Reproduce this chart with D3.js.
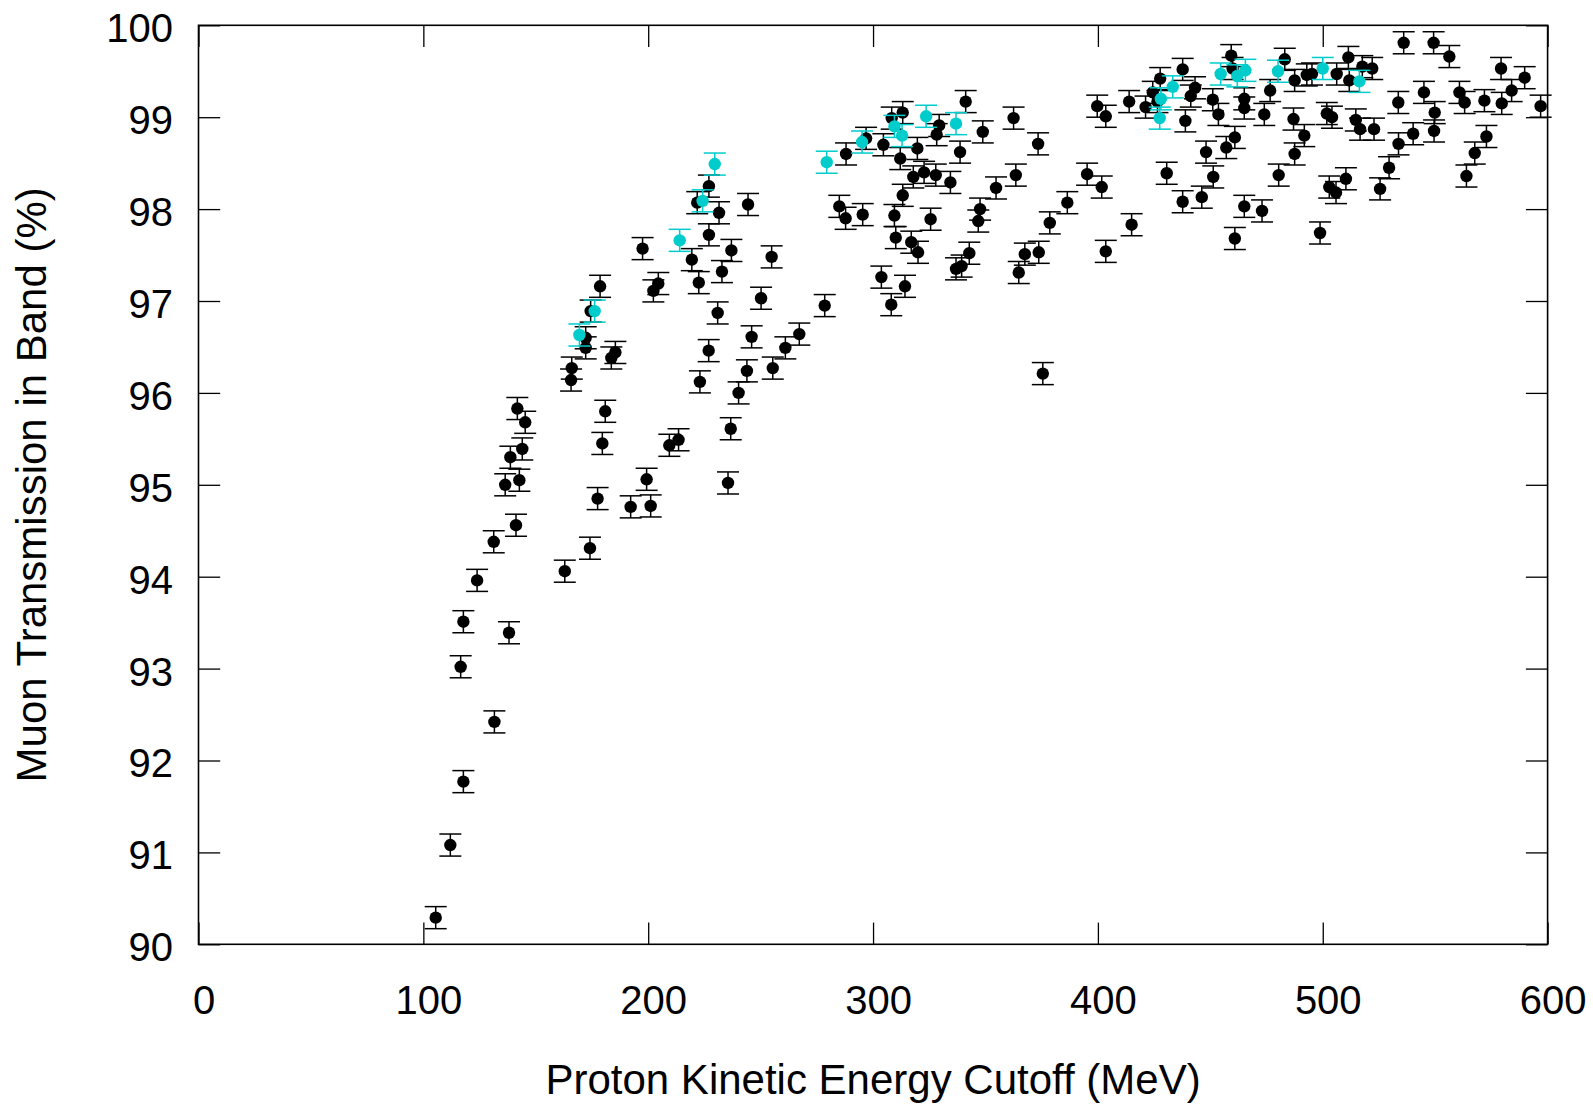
<!DOCTYPE html>
<html>
<head>
<meta charset="utf-8">
<script src="https://cdn.jsdelivr.net/npm/d3@7"></script>
<style>
  html, body { margin: 0; padding: 0; background: #ffffff; }
  svg { display: block; }
  text { font-family: "Liberation Sans", Arial, Helvetica, sans-serif; fill: #000; }
</style>
</head>
<body>
<svg id="chart" width="1593" height="1104"></svg>
<script>
// ---------- data ----------
const xTicks = [0, 100, 200, 300, 400, 500, 600];
const yTicks = [90, 91, 92, 93, 94, 95, 96, 97, 98, 99, 100];
const xTitle = "Proton Kinetic Energy Cutoff (MeV)";
const yTitle = "Muon Transmission in Band (%)";
const errorHalf = 0.12;

const blackX = [105.5,112.0,117.8,116.6,117.8,123.9,131.3,131.6,138.1,136.4,
  138.7,141.2,142.7,141.8,144.0,145.3,162.9,166.0,165.7,172.2,
  172.2,174.4,178.6,183.6,185.4,180.9,179.6,177.5,174.1,192.2,
  201.1,199.3,197.5,202.3,204.5,209.4,213.5,219.4,222.5,223.0,
  221.8,227.0,227.0,231.5,232.8,230.9,226.9,237.0,244.4,236.7,
  235.5,240.2,243.9,246.0,250.2,254.9,255.4,261.0,267.2,278.5,
  285.0,287.8,288.0,295.4,296.9,304.6,303.7,308.1,308.3,313.2,
  312.1,309.5,310.1,313.2,314.2,317.9,317.0,319.7,320.0,322.7,
  325.6,327.9,328.3,329.4,334.4,336.9,339.4,338.7,341.2,342.8,
  346.8,347.6,348.8,354.7,362.5,363.5,364.8,367.5,373.4,373.7,
  375.5,378.6,386.4,395.2,399.7,401.7,403.5,403.5,413.9,415.0,
  421.2,424.4,427.7,426.5,430.6,437.7,437.7,438.9,441.3,443.2,
  446.2,448.1,451.1,451.3,453.6,457.1,459.3,459.9,460.9,460.9,
  465.1,465.1,465.1,473.0,474.0,476.6,480.4,483.1,487.5,487.0,
  487.5,491.8,492.9,495.2,498.8,501.8,504.1,502.9,505.9,506.2,
  510.3,511.4,511.8,514.7,516.6,517.6,522.0,522.8,525.5,529.5,
  533.6,533.7,536.0,540.2,545.0,549.3,549.8,549.5,556.3,560.8,
  563.1,563.9,567.6,571.9,572.8,579.3,579.6,584.0,589.8,596.9];
const blackY = [90.29,91.08,91.77,93.02,93.51,93.96,94.38,92.42,93.39,95.00,
  95.30,94.56,95.05,95.83,95.39,95.68,94.06,96.27,96.14,96.60,
  96.49,96.89,97.16,96.38,96.44,95.80,95.45,94.85,94.31,94.76,
  94.77,95.06,97.57,97.11,97.19,95.43,95.49,97.45,97.20,96.12,
  98.07,98.25,97.72,97.96,97.32,96.87,96.46,97.55,98.05,95.61,
  95.02,96.00,96.24,96.61,97.03,97.48,96.27,96.49,96.64,96.95,
  98.03,97.90,98.60,97.94,98.77,98.70,97.26,96.96,98.99,99.05,
  98.55,97.93,97.69,98.15,97.16,98.35,97.64,98.66,97.53,98.40,
  97.89,98.37,98.81,98.91,98.29,97.35,97.38,98.62,99.17,97.52,
  97.87,98.00,98.84,98.23,98.99,98.37,97.31,97.51,98.71,97.53,
  96.21,97.85,98.07,98.38,99.12,98.24,99.01,97.54,99.17,97.83,
  99.11,99.27,99.42,99.17,98.39,99.52,98.08,98.96,99.23,99.32,
  98.13,98.62,99.19,98.35,99.03,98.67,99.67,99.53,98.78,97.68,
  99.20,99.10,98.03,97.98,99.03,99.29,98.37,99.63,99.40,98.98,
  98.60,98.80,99.46,99.47,97.74,99.04,99.00,98.24,98.18,99.47,
  98.33,99.65,99.40,98.97,98.87,99.55,99.53,98.87,98.22,98.45,
  99.16,98.71,99.81,98.82,99.27,99.81,99.05,98.85,99.66,99.27,
  99.16,98.36,98.61,99.18,98.79,99.53,99.15,99.29,99.43,99.12];

const cyanX = [169.4,176.2,214.0,224.2,229.6,279.4,295.1,309.5,312.9,323.6,
  336.9,428.0,427.5,433.3,454.6,462.0,465.6,480.1,500.0,516.3];
const cyanY = [96.63,96.89,97.66,98.09,98.49,98.51,98.73,98.90,98.80,99.01,
  98.93,99.20,98.99,99.33,99.47,99.45,99.51,99.50,99.53,99.39];

const blackColor = "#000000";
const cyanColor = "#00cccc";

// ---------- layout ----------
const svg = d3.select("#chart");
svg.append("rect").attr("width", 1593).attr("height", 1104).attr("fill", "#fff");

const x = d3.scaleLinear().domain([0, 600]).range([198.5, 1547.6]);
const y = d3.scaleLinear().domain([90, 100]).range([944.3, 25.3]);
const tickLen = 21.7;
const fontSize = 40;
const titleSize = 42;

// series
function drawSeries(xs, ys, color) {
  const data = xs.map((d, i) => ({ x: d, y: ys[i] }));
  const g = svg.append("g");
  const eb = g.selectAll("g.eb").data(data).join("g").attr("class", "eb");
  eb.append("line")
    .attr("x1", d => x(d.x)).attr("x2", d => x(d.x))
    .attr("y1", d => y(d.y - errorHalf)).attr("y2", d => y(d.y + errorHalf))
    .attr("stroke", color).attr("stroke-width", 1.5);
  eb.append("line")
    .attr("x1", d => x(d.x) - 11).attr("x2", d => x(d.x) + 11)
    .attr("y1", d => y(d.y + errorHalf)).attr("y2", d => y(d.y + errorHalf))
    .attr("stroke", color).attr("stroke-width", 1.5);
  eb.append("line")
    .attr("x1", d => x(d.x) - 11).attr("x2", d => x(d.x) + 11)
    .attr("y1", d => y(d.y - errorHalf)).attr("y2", d => y(d.y - errorHalf))
    .attr("stroke", color).attr("stroke-width", 1.5);
  g.selectAll("circle").data(data).join("circle")
    .attr("cx", d => x(d.x)).attr("cy", d => y(d.y)).attr("r", 6.2)
    .attr("fill", color);
}
drawSeries(blackX, blackY, blackColor);
drawSeries(cyanX, cyanY, cyanColor);

// axes (ticks inward, mirrored)
function styleAxis(g) {
  g.select(".domain").remove();
  g.selectAll(".tick line").attr("stroke", "#000").attr("stroke-width", 1.3);
}
svg.append("g").attr("transform", `translate(0,${y(90)})`)
  .call(d3.axisBottom(x).tickValues(xTicks).tickSizeInner(-tickLen).tickSizeOuter(0).tickFormat(d3.format("d")))
  .call(styleAxis)
  .call(g => g.selectAll("text")
    .attr("y", 69.7).attr("dy", 0).attr("x", 5)
    .attr("text-anchor", "middle")
    .style("font-size", fontSize + "px").style("font-family", "'Liberation Sans', Arial, sans-serif").attr("fill", "#000"));
svg.append("g").attr("transform", `translate(0,${y(100)})`)
  .call(d3.axisTop(x).tickValues(xTicks).tickSizeInner(-tickLen).tickSizeOuter(0).tickFormat(""))
  .call(styleAxis);
svg.append("g").attr("transform", `translate(${x(0)},0)`)
  .call(d3.axisLeft(y).tickValues(yTicks).tickSizeInner(-tickLen).tickSizeOuter(0).tickFormat(d3.format("d")))
  .call(styleAxis)
  .call(g => g.selectAll("text")
    .attr("x", -25.5).attr("dy", 0).attr("y", 16.4)
    .attr("text-anchor", "end")
    .style("font-size", fontSize + "px").style("font-family", "'Liberation Sans', Arial, sans-serif").attr("fill", "#000"));
svg.append("g").attr("transform", `translate(${x(600)},0)`)
  .call(d3.axisRight(y).tickValues(yTicks).tickSizeInner(-tickLen).tickSizeOuter(0).tickFormat(""))
  .call(styleAxis);

// frame
svg.append("rect")
  .attr("x", x(0)).attr("y", y(100))
  .attr("width", x(600) - x(0)).attr("height", y(90) - y(100))
  .attr("fill", "none").attr("stroke", "#000").attr("stroke-width", 1.6);

// titles
svg.append("text")
  .attr("x", (x(0) + x(600)) / 2).attr("y", 1094)
  .attr("text-anchor", "middle")
  .style("font-size", titleSize + "px")
  .text(xTitle);
svg.append("text")
  .attr("transform", `translate(46,${(y(90) + y(100)) / 2}) rotate(-90)`)
  .attr("text-anchor", "middle")
  .style("font-size", titleSize + "px")
  .text(yTitle);
</script>
</body>
</html>
